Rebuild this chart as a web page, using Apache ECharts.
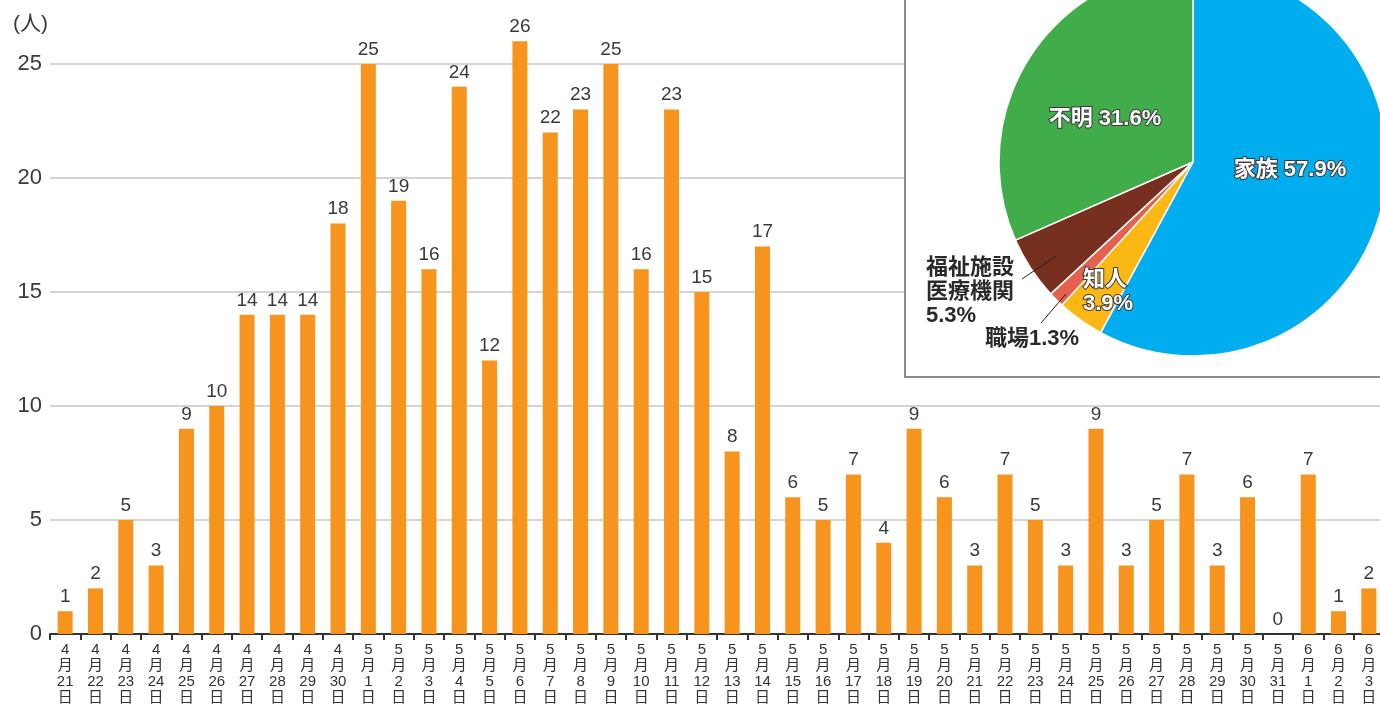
<!DOCTYPE html>
<html>
<head>
<meta charset="utf-8">
<script src="https://cdn.jsdelivr.net/npm/echarts@6/dist/echarts.min.js"></script>
<style>
  html, body { margin: 0; padding: 0; background: #fff; }
  #main { width: 1380px; height: 705px; }
</style>
</head>
<body>
<div id="main"></div>
<script>
// 日別人数
var dates = [
    '4月21日', '4月22日', '4月23日', '4月24日', '4月25日', '4月26日', '4月27日', '4月28日', '4月29日', '4月30日',
    '5月1日', '5月2日', '5月3日', '5月4日', '5月5日', '5月6日', '5月7日', '5月8日', '5月9日', '5月10日',
    '5月11日', '5月12日', '5月13日', '5月14日', '5月15日', '5月16日', '5月17日', '5月18日', '5月19日', '5月20日',
    '5月21日', '5月22日', '5月23日', '5月24日', '5月25日', '5月26日', '5月27日', '5月28日', '5月29日', '5月30日',
    '5月31日', '6月1日', '6月2日', '6月3日'
];
var counts = [
    1, 2, 5, 3, 9, 10, 14, 14, 14, 18,
    25, 19, 16, 24, 12, 26, 22, 23, 25, 16,
    23, 15, 8, 17, 6, 5, 7, 4, 9, 6,
    3, 7, 5, 3, 9, 3, 5, 7, 3, 6,
    0, 7, 1, 2
];
var yTicks = [0, 5, 10, 15, 20, 25];

// 感染経路（%）
var routeNames = ['家族', '知人', '職場', '福祉施設\n医療機関', '不明'];
var routeShares = [57.9, 3.9, 1.3, 5.3, 31.6];
var routeColors = ['#00aeef', '#fbb714', '#e5604d', '#77301f', '#40ad4a'];

var font = "'Liberation Sans', 'Noto Sans CJK JP', sans-serif";

var chart = echarts.init(document.getElementById('main'));

// 外側ラベル（線つき）は 職場・福祉施設
var outsideIdx = [2, 3];

var pieData = routeNames.map(function (n, i) {
    var outside = outsideIdx.indexOf(i) >= 0;
    return {
        name: n,
        value: routeShares[i],
        itemStyle: { color: routeColors[i] },
        label: outside
            ? { position: 'outside', color: '#2a2a2a' }
            : { position: 'inside', color: '#fff', textBorderColor: '#3a3a3a', textBorderWidth: 2 }
    };
});

// ラベル位置（手動）
var pieLabelPos = [
    { x: 1290, y: 170, align: 'center' },
    { x: 1083, y: 292, align: 'left' },
    { x: 985, y: 339, align: 'left' },
    { x: 926, y: 292, align: 'left' },
    { x: 1105, y: 119, align: 'center' }
];

// 引き出し線（ラベルからスライス内へ）
var leaderLines = [
    [[1041, 323], [1066, 294]],
    [[1022, 279], [1056, 256]]
];

var option = {
    animation: false,
    textStyle: { fontFamily: font },
    title: {
        text: '(人)',
        left: 8,
        top: 9,
        textStyle: { fontSize: 21, fontWeight: 'normal', color: '#3a3a3a', fontFamily: font }
    },
    grid: { left: 50, top: 64, width: 1334, height: 570, outerBoundsMode: 'none', containLabel: false },
    xAxis: {
        type: 'category',
        data: dates,
        axisLine: { lineStyle: { color: '#333', width: 2 } },
        axisTick: { show: true, length: 6, lineStyle: { color: '#333', width: 2 } },
        axisLabel: {
            interval: 0,
            margin: 8,
            fontSize: 15,
            lineHeight: 16,
            color: '#333',
            fontFamily: font,
            formatter: function (v) {
                var m = v.split('月');
                return m[0] + '\n月\n' + m[1].replace('日', '') + '\n日';
            }
        }
    },
    yAxis: {
        type: 'value',
        min: yTicks[0],
        max: yTicks[yTicks.length - 1],
        interval: 5,
        axisLine: { show: false },
        axisTick: { show: false },
        axisLabel: { fontSize: 22, color: '#3a3a3a', margin: 8, fontFamily: font },
        splitLine: { lineStyle: { color: '#c6c6c6', width: 1.5 } }
    },
    graphic: [{
        type: 'rect',
        z: 1,
        shape: { x: 905, y: -10, width: 500, height: 387 },
        style: { fill: '#fff', stroke: '#8c8c8c', lineWidth: 2 }
    }].concat(leaderLines.map(function (pts) {
        return {
            type: 'polyline',
            z: 20,
            shape: { points: pts },
            style: { stroke: '#222', lineWidth: 1, fill: null }
        };
    })),
    series: [
        {
            name: '人数',
            type: 'bar',
            data: counts,
            barWidth: 15,
            clip: false,
            itemStyle: { color: '#f7941d' },
            label: {
                show: true,
                position: 'top',
                distance: 5,
                fontSize: 19,
                color: '#3a3a3a',
                fontFamily: font
            }
        },
        {
            name: '感染経路',
            type: 'pie',
            z: 3,
            center: [1193, 162],
            radius: 194,
            startAngle: 90,
            clockwise: true,
            data: pieData,
            itemStyle: { borderColor: '#fff', borderWidth: 1.5 },
            label: {
                show: true,
                fontSize: 22,
                fontWeight: 'bold',
                lineHeight: 24,
                fontFamily: font,
                formatter: function (p) {
                    var i = p.dataIndex;
                    if (i === 0 || i === 4) return p.name + ' ' + p.value + '%';
                    if (i === 2) return p.name + p.value + '%';
                    return p.name + '\n' + p.value + '%';
                }
            },
            labelLine: { show: false },
            labelLayout: function (params) {
                var pos = pieLabelPos[params.dataIndex];
                return { x: pos.x, y: pos.y, align: pos.align, verticalAlign: 'middle' };
            }
        }
    ]
};

chart.setOption(option);
</script>
</body>
</html>
